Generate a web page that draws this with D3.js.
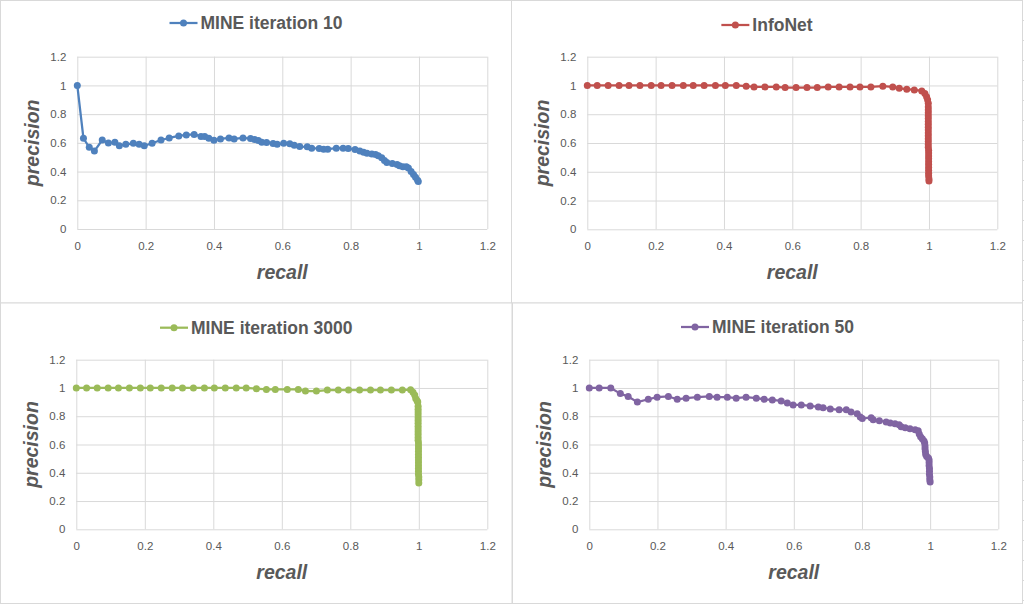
<!DOCTYPE html>
<html>
<head>
<meta charset="utf-8">
<script src="https://cdn.jsdelivr.net/npm/d3@7"></script>
<style>
  body { margin: 0; background: #fff; }
  svg { display: block; }
</style>
</head>
<body>
<svg id="chart" width="1024" height="604"></svg>
<script>
// [recall, precision] pairs
const mine10 = [[0,1.0],[0.018,0.632],[0.035,0.569],[0.05,0.543],[0.073,0.62],[0.091,0.599],[0.11,0.604],[0.123,0.58],
  [0.142,0.59],[0.164,0.597],[0.181,0.59],[0.196,0.58],[0.219,0.597],[0.245,0.62],[0.269,0.634],[0.297,0.648],
  [0.319,0.655],[0.342,0.659],[0.362,0.645],[0.373,0.645],[0.385,0.632],[0.40,0.618],[0.419,0.627],[0.444,0.634],
  [0.459,0.627],[0.485,0.634],[0.507,0.63],[0.519,0.623],[0.53,0.617],[0.54,0.605],[0.554,0.603],[0.573,0.595],
  [0.585,0.59],[0.604,0.597],[0.622,0.593],[0.635,0.584],[0.651,0.574],[0.673,0.572],[0.686,0.563],[0.708,0.56],
  [0.721,0.556],[0.733,0.556],[0.758,0.563],[0.778,0.563],[0.793,0.56],[0.813,0.553],[0.827,0.544],[0.838,0.535],
  [0.848,0.528],[0.862,0.523],[0.873,0.519],[0.881,0.51],[0.891,0.496],[0.899,0.477],[0.906,0.463],[0.922,0.456],
  [0.936,0.449],[0.943,0.44],[0.953,0.433],[0.963,0.433],[0.969,0.424],[0.977,0.40],[0.984,0.38],[0.99,0.36],
  [0.996,0.34],[0.998,0.33]];

const infoNet = [[0,1.0],[0.029,1.0],[0.061,1.0],[0.093,1.0],[0.122,1.0],[0.154,1.0],[0.187,1.0],[0.216,1.0],
  [0.248,1.0],[0.281,1.0],[0.31,1.0],[0.342,1.0],[0.375,1.0],[0.404,1.0],[0.436,1.0],[0.465,0.995],[0.488,0.99],
  [0.52,0.99],[0.553,0.99],[0.579,0.985],[0.611,0.985],[0.643,0.985],[0.673,0.985],[0.705,0.99],[0.737,0.99],
  [0.769,0.99],[0.798,0.99],[0.83,0.99],[0.865,0.995],[0.894,0.99],[0.913,0.98],[0.935,0.974],[0.957,0.969],
  [0.979,0.962],[0.988,0.945],[0.993,0.922],[0.996,0.9],[0.998,0.876],[0.998,0.85],[0.998,0.83],[0.998,0.81],
  [0.998,0.79],[0.998,0.77],[0.998,0.75],[0.998,0.73],[0.998,0.71],[0.998,0.69],[0.998,0.67],[0.998,0.65],
  [0.998,0.63],[0.998,0.61],[0.998,0.59],[0.998,0.57],[0.999,0.55],[0.999,0.53],[0.999,0.51],[0.999,0.49],
  [0.999,0.47],[0.999,0.45],[0.999,0.43],[0.999,0.41],[0.999,0.39],[0.999,0.37],[1.0,0.35],[1.0,0.336]];

const mine3000 = [[0,1.0],[0.03,1.0],[0.061,1.0],[0.093,1.0],[0.123,1.0],[0.155,1.0],[0.187,1.0],[0.216,1.0],
  [0.248,1.0],[0.28,1.0],[0.31,1.0],[0.342,1.0],[0.374,1.0],[0.403,1.0],[0.435,1.0],[0.467,1.0],[0.496,1.0],
  [0.526,0.995],[0.555,0.99],[0.581,0.99],[0.616,0.99],[0.648,0.99],[0.669,0.978],[0.701,0.978],[0.733,0.985],
  [0.765,0.985],[0.795,0.985],[0.827,0.985],[0.859,0.985],[0.888,0.985],[0.92,0.985],[0.952,0.985],[0.976,0.988],
  [0.983,0.97],[0.988,0.95],[0.991,0.925],[0.995,0.91],[0.997,0.9],[0.998,0.87],[0.998,0.85],[0.998,0.83],
  [0.998,0.81],[0.998,0.79],[0.998,0.77],[0.998,0.75],[0.998,0.73],[0.998,0.71],[0.998,0.69],[0.998,0.67],
  [0.998,0.65],[0.998,0.63],[0.999,0.61],[0.999,0.59],[0.999,0.57],[0.999,0.55],[0.999,0.53],[0.999,0.51],
  [0.999,0.49],[0.999,0.47],[0.999,0.45],[0.999,0.43],[0.999,0.41],[0.999,0.39],[1.0,0.37],[1.0,0.35],[1.0,0.328]];

const mine50 = [[0,1.0],[0.029,1.0],[0.063,1.0],[0.091,0.96],[0.114,0.94],[0.141,0.90],[0.173,0.92],[0.199,0.935],
  [0.232,0.94],[0.258,0.92],[0.284,0.928],[0.317,0.935],[0.352,0.94],[0.375,0.935],[0.405,0.935],[0.431,0.928],
  [0.46,0.935],[0.49,0.928],[0.513,0.92],[0.537,0.915],[0.563,0.908],[0.581,0.894],[0.598,0.88],[0.622,0.88],
  [0.648,0.873],[0.672,0.866],[0.686,0.86],[0.707,0.852],[0.733,0.845],[0.754,0.845],[0.768,0.83],[0.786,0.817],
  [0.795,0.795],[0.801,0.784],[0.827,0.79],[0.833,0.775],[0.851,0.768],[0.871,0.76],[0.883,0.753],[0.897,0.746],
  [0.909,0.74],[0.915,0.725],[0.927,0.718],[0.941,0.711],[0.956,0.704],[0.965,0.697],[0.968,0.675],[0.972,0.655],
  [0.977,0.64],[0.982,0.625],[0.984,0.61],[0.985,0.59],[0.985,0.57],[0.986,0.55],[0.987,0.53],[0.99,0.515],
  [0.995,0.505],[0.997,0.49],[0.997,0.47],[0.997,0.45],[0.998,0.43],[0.998,0.41],[0.998,0.39],[0.999,0.37],
  [0.999,0.35],[1.0,0.335]];

const tickLabels = ["0", "0.2", "0.4", "0.6", "0.8", "1", "1.2"];
const titles = ["MINE iteration 10", "InfoNet", "MINE iteration 3000", "MINE iteration 50"];
const colors = ["#4f81bd", "#c0504d", "#9bbb59", "#8064a2"];

// panel boxes and plot areas (pixels)
const panels = [
  { data: mine10,   box: [0.5, 0.5, 511.5, 303],   plot: [77.3, 487.3, 56.7, 229],     titleY: 23 },
  { data: infoNet,  box: [511.5, 0.5, 1022.5, 303], plot: [587.3, 997.3, 56.7, 229.3],  titleY: 25 },
  { data: mine3000, box: [0.5, 303, 512, 603.5],    plot: [76.3, 487.3, 359.7, 529.3],  titleY: 327.7 },
  { data: mine50,   box: [512.5, 303, 1022.5, 603.5], plot: [589.3, 998.3, 359.7, 529.3], titleY: 327 }
];

const svg = d3.select('#chart');
const textColor = '#595959';
const gridColor = '#d9d9d9';
const ticks = tickLabels.map(Number);
const dotR = 3.5;

// sheet grid peeking out at the right edge
svg.append('g')
  .selectAll('line')
  .data(d3.range(20, 604, 20))
  .enter()
  .append('line')
  .attr('x1', 1022).attr('x2', 1024)
  .attr('y1', d => d + 0.5).attr('y2', d => d + 0.5)
  .attr('stroke', gridColor);

panels.forEach((p, i) => {
  const [left, right, top, bottom] = p.plot;
  const color = colors[i];
  const g = svg.append('g');

  g.append('rect')
    .attr('x', p.box[0]).attr('y', p.box[1])
    .attr('width', p.box[2] - p.box[0]).attr('height', p.box[3] - p.box[1])
    .attr('fill', '#fff')
    .attr('stroke', gridColor);

  const x = d3.scaleLinear().domain([0, 1.2]).range([left, right]);
  const y = d3.scaleLinear().domain([0, 1.2]).range([bottom, top]);

  const xAxis = g.append('g')
    .attr('transform', `translate(0,${bottom})`)
    .call(d3.axisBottom(x).tickValues(ticks).tickSize(-(bottom - top)).tickPadding(13)
      .tickFormat((d, k) => tickLabels[k]));
  const yAxis = g.append('g')
    .attr('transform', `translate(${left},0)`)
    .call(d3.axisLeft(y).tickValues(ticks).tickSize(-(right - left)).tickPadding(11)
      .tickFormat((d, k) => tickLabels[k]));

  [xAxis, yAxis].forEach(a => {
    a.select('.domain').remove();
    a.selectAll('.tick line').attr('stroke', gridColor);
    a.selectAll('.tick text')
      .attr('fill', textColor)
      .style('font-family', '"Liberation Sans", Arial, sans-serif')
      .style('font-size', '11.5px');
  });

  const line = d3.line().x(d => x(d[0])).y(d => y(d[1]));
  g.append('path')
    .datum(p.data)
    .attr('d', line)
    .attr('fill', 'none')
    .attr('stroke', color)
    .attr('stroke-width', 2.25)
    .attr('stroke-linejoin', 'round');

  g.append('g')
    .selectAll('circle')
    .data(p.data)
    .enter()
    .append('circle')
    .attr('cx', d => x(d[0]))
    .attr('cy', d => y(d[1]))
    .attr('r', dotR)
    .attr('fill', color);

  // axis titles
  g.append('text')
    .attr('x', (left + right) / 2)
    .attr('y', bottom + 50)
    .attr('text-anchor', 'middle')
    .attr('fill', textColor)
    .style('font-family', '"Liberation Sans", Arial, sans-serif')
    .style('font-size', '19.5px')
    .style('font-weight', 'bold')
    .style('font-style', 'italic')
    .text('recall');

  g.append('text')
    .attr('transform', `translate(${left - 38},${(top + bottom) / 2}) rotate(-90)`)
    .attr('text-anchor', 'middle')
    .attr('fill', textColor)
    .style('font-family', '"Liberation Sans", Arial, sans-serif')
    .style('font-size', '19.5px')
    .style('font-weight', 'bold')
    .style('font-style', 'italic')
    .text('precision');

  // title with legend key
  const tg = g.append('g');
  const label = tg.append('text')
    .attr('x', 31)
    .attr('y', p.titleY)
    .attr('dy', '0.36em')
    .attr('fill', textColor)
    .style('font-family', '"Liberation Sans", Arial, sans-serif')
    .style('font-size', '17.5px')
    .style('font-weight', 'bold')
    .text(titles[i]);
  tg.append('line')
    .attr('x1', 0).attr('x2', 28)
    .attr('y1', p.titleY).attr('y2', p.titleY)
    .attr('stroke', color).attr('stroke-width', 2.25);
  tg.append('circle')
    .attr('cx', 14).attr('cy', p.titleY).attr('r', dotR)
    .attr('fill', color);
  const w = 31 + label.node().getComputedTextLength();
  const cx = (p.box[0] + p.box[2]) / 2;
  tg.attr('transform', `translate(${cx - w / 2},0)`);
});
</script>
</body>
</html>
